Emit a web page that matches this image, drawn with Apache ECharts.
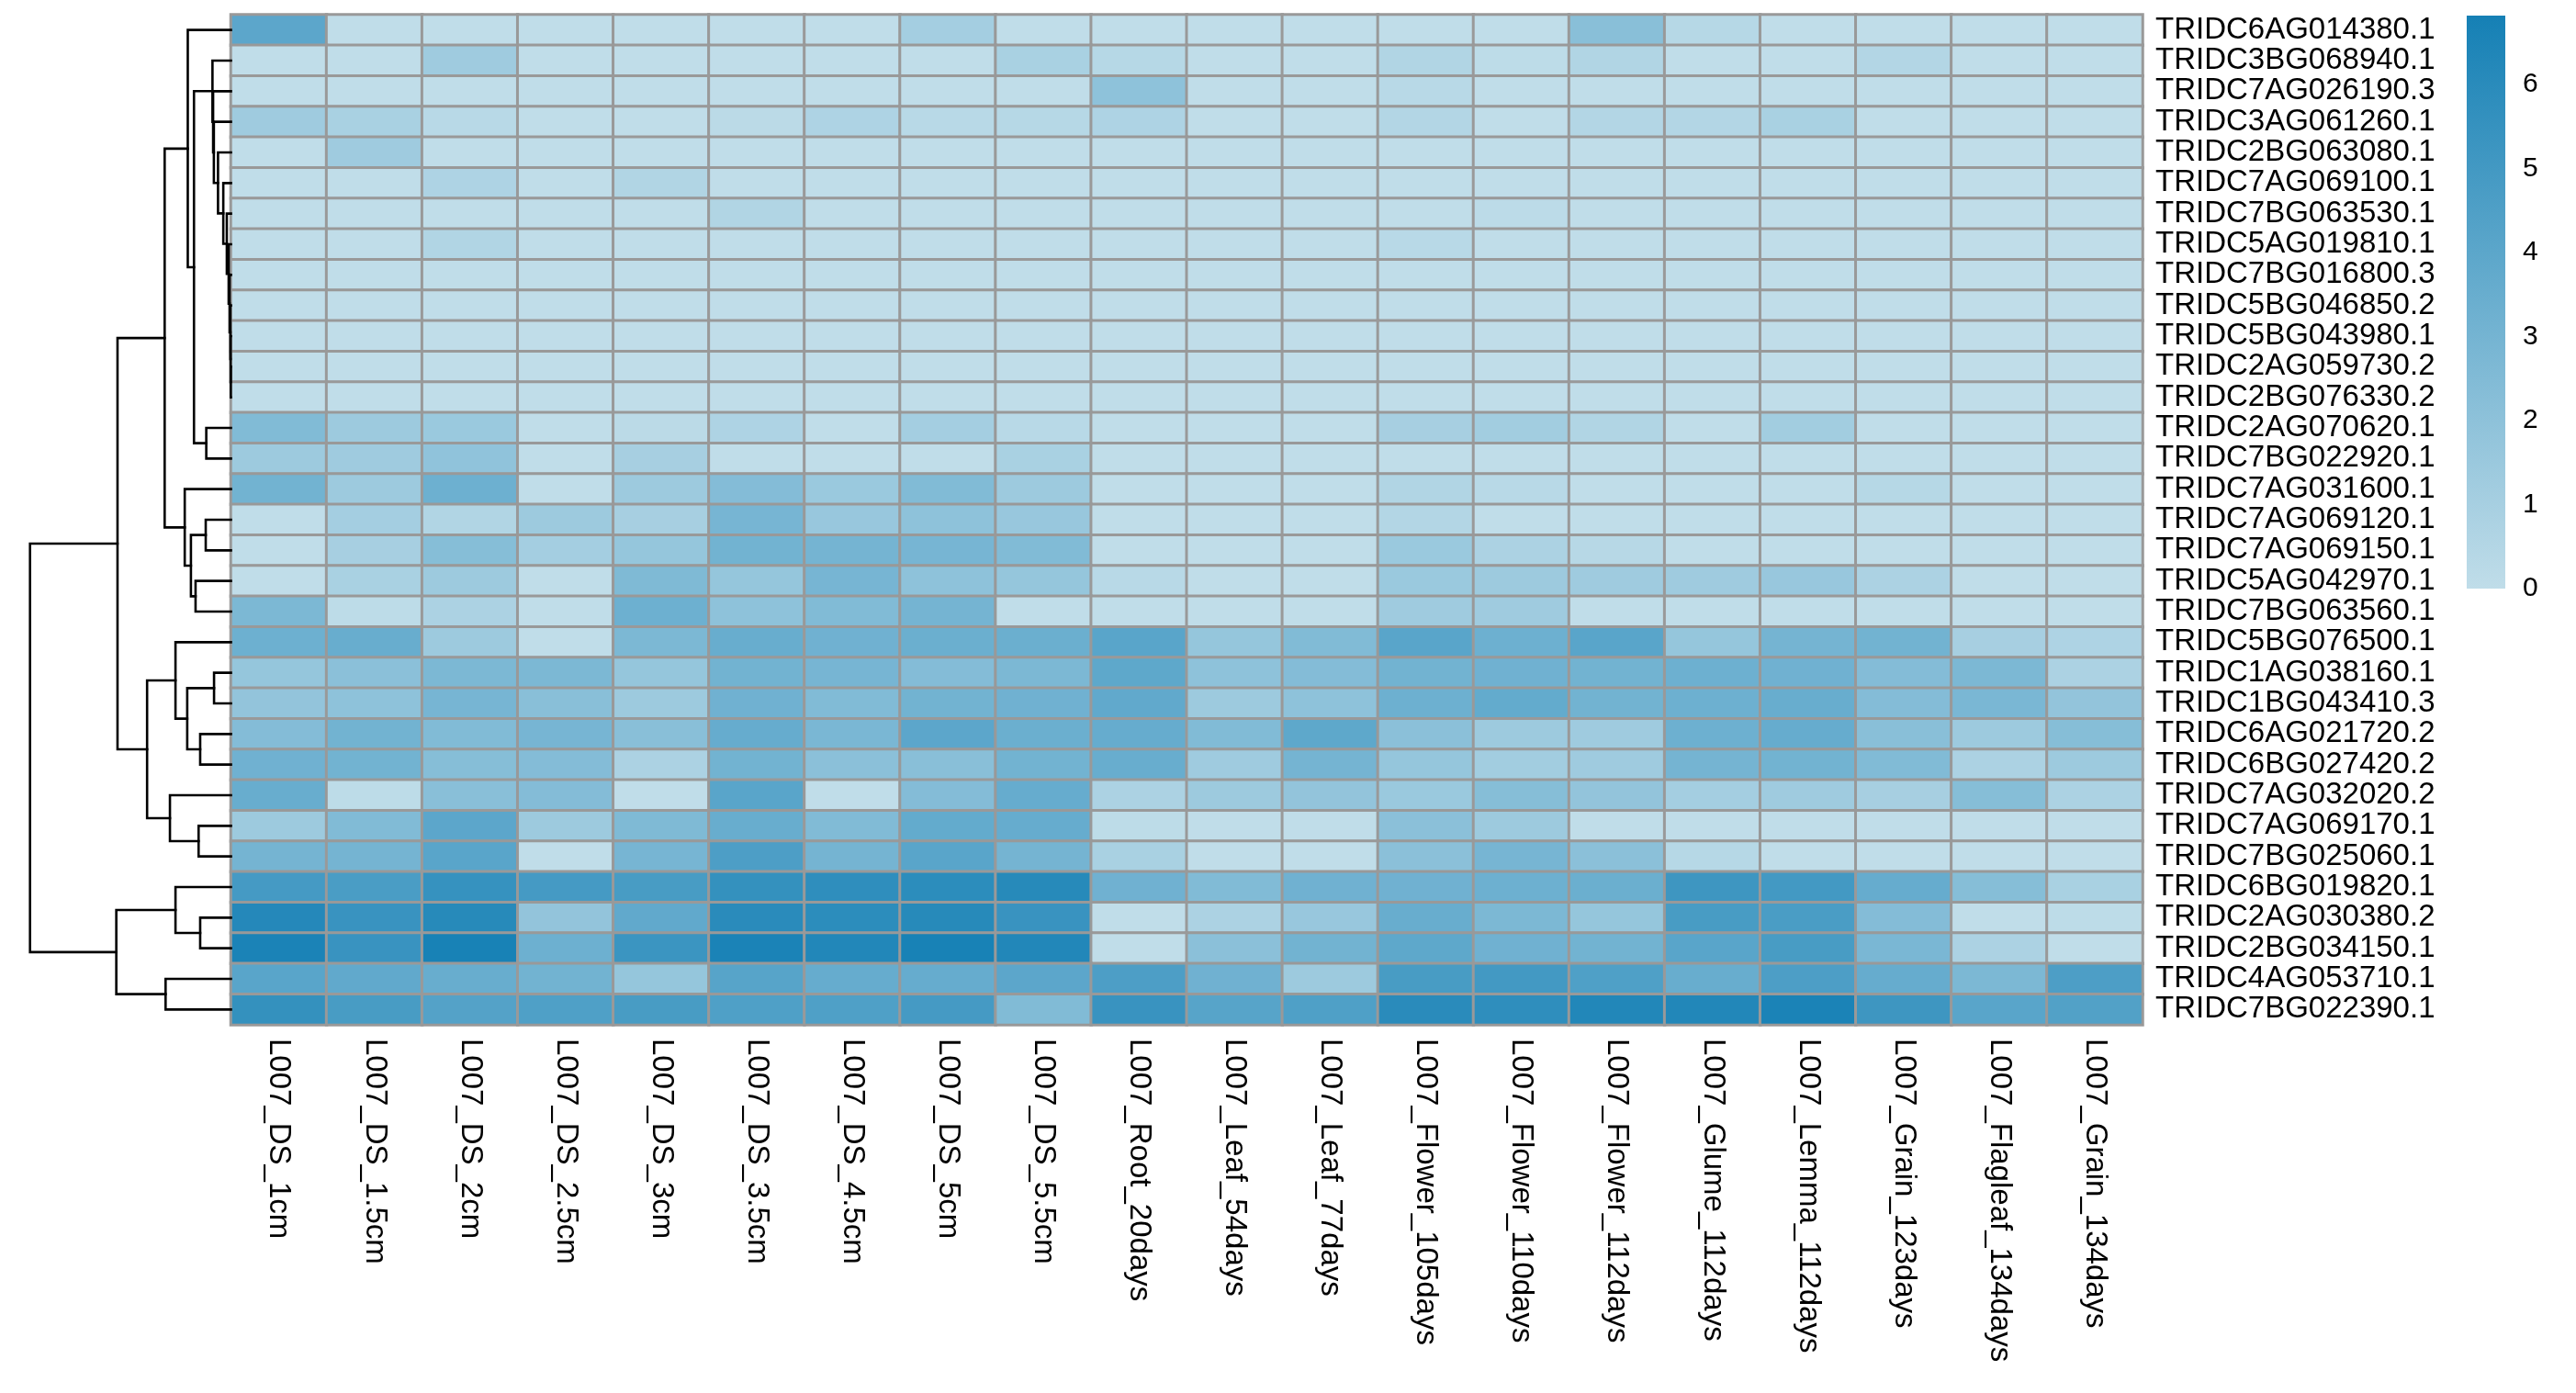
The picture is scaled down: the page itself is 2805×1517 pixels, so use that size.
<!DOCTYPE html>
<html>
<head>
<meta charset="utf-8">
<script src="https://cdn.jsdelivr.net/npm/echarts@6/dist/echarts.min.js"></script>
<style>
html,body{margin:0;padding:0;background:#fff;}
#chart{width:2805px;height:1517px;}
</style>
</head>
<body>
<div id="chart"></div>
<script>
// ---- column (sample) labels ----
const samples = ["L007_DS_1cm","L007_DS_1.5cm","L007_DS_2cm","L007_DS_2.5cm","L007_DS_3cm",
  "L007_DS_3.5cm","L007_DS_4.5cm","L007_DS_5cm","L007_DS_5.5cm","L007_Root_20days",
  "L007_Leaf_54days","L007_Leaf_77days","L007_Flower_105days","L007_Flower_110days","L007_Flower_112days",
  "L007_Glume_112days","L007_Lemma_112days","L007_Grain_123days","L007_Flagleaf_134days","L007_Grain_134days"];

// ---- row (gene) labels, in dendrogram order ----
const genes = ["TRIDC6AG014380.1","TRIDC3BG068940.1","TRIDC7AG026190.3","TRIDC3AG061260.1","TRIDC2BG063080.1",
  "TRIDC7AG069100.1","TRIDC7BG063530.1","TRIDC5AG019810.1","TRIDC7BG016800.3","TRIDC5BG046850.2",
  "TRIDC5BG043980.1","TRIDC2AG059730.2","TRIDC2BG076330.2","TRIDC2AG070620.1","TRIDC7BG022920.1",
  "TRIDC7AG031600.1","TRIDC7AG069120.1","TRIDC7AG069150.1","TRIDC5AG042970.1","TRIDC7BG063560.1",
  "TRIDC5BG076500.1","TRIDC1AG038160.1","TRIDC1BG043410.3","TRIDC6AG021720.2","TRIDC6BG027420.2",
  "TRIDC7AG032020.2","TRIDC7AG069170.1","TRIDC7BG025060.1","TRIDC6BG019820.1","TRIDC2AG030380.2",
  "TRIDC2BG034150.1","TRIDC4AG053710.1","TRIDC7BG022390.1"];

// ---- expression values per gene (one value per sample) ----
const TRIDC6AG014380_1 = [4.0,0,0,0,0,0,0,1.1,0,0, 0,0,0,0,2.2,0.4,0,0,0,0];
const TRIDC3BG068940_1 = [0,0,1.3,0,0,0,0,0,0.9,0.4, 0,0,0.6,0.1,0.6,0,0,0.5,0,0];
const TRIDC7AG026190_3 = [0,0,0,0,0,0,0,0,0,2.0, 0,0,0.3,0,0,0,0,0,0,0];
const TRIDC3AG061260_1 = [1.3,0.9,0.3,0,0,0.2,0.7,0.3,0.4,0.7, 0,0,0.5,0,0.5,0.5,0.9,0,0,0];
const TRIDC2BG063080_1 = [0,1.3,0,0,0,0,0,0,0,0, 0,0,0,0,0,0,0,0,0,0];
const TRIDC7AG069100_1 = [0,0,0.7,0,0.6,0,0,0,0,0, 0,0,0,0,0,0,0,0,0,0];
const TRIDC7BG063530_1 = [0,0,0,0,0,0.6,0,0,0,0, 0,0,0,0.15,0,0,0,0,0,0];
const TRIDC5AG019810_1 = [0,0,0.6,0,0,0,0,0,0,0, 0,0,0.3,0,0,0,0,0,0,0];
const TRIDC7BG016800_3 = [0,0,0,0,0,0,0,0,0,0, 0,0,0,0,0,0,0,0,0,0];
const TRIDC5BG046850_2 = [0,0,0,0,0,0,0,0,0,0, 0,0,0,0,0,0,0,0,0,0];
const TRIDC5BG043980_1 = [0,0,0,0,0,0,0,0,0,0, 0,0,0,0,0,0,0,0,0,0];
const TRIDC2AG059730_2 = [0,0,0,0,0,0,0,0,0,0, 0,0,0,0,0,0,0,0,0,0];
const TRIDC2BG076330_2 = [0,0,0,0,0,0,0,0,0,0, 0,0,0,0,0,0,0,0,0,0];
const TRIDC2AG070620_1 = [2.5,1.4,1.5,0,0.2,0.7,0,1.1,0.3,0, 0,0,1.0,1.2,0.6,0,1.2,0,0,0];
const TRIDC7BG022920_1 = [1.4,1.3,1.9,0,1.0,0,0,0,0.9,0, 0,0,0,0,0,0,0,0,0,0];
const TRIDC7AG031600_1 = [3.1,1.4,3.3,0,1.4,2.4,1.5,2.5,1.4,0, 0,0,0.6,0.3,0,0,0,0.4,0,0];
const TRIDC7AG069120_1 = [0,1.1,0.6,1.4,1.0,2.9,1.6,2.0,1.6,0, 0,0,0.5,0,0,0,0,0,0,0];
const TRIDC7AG069150_1 = [0,1.0,2.3,1.1,1.7,3.1,3.0,2.9,2.5,0, 0,0,1.5,0.8,0.35,0,0,0,0,0];
const TRIDC5AG042970_1 = [0,0.9,1.4,0,2.6,1.7,2.9,2.0,1.7,0.3, 0,0,1.5,1.4,1.3,1.3,1.6,0.8,0,0];
const TRIDC7BG063560_1 = [2.7,0.1,0.8,0,3.3,2.0,2.5,3.0,0,0, 0,0,1.3,1.3,0,0,0,0,0,0];
const TRIDC5BG076500_1 = [3.3,3.5,1.4,0,2.7,3.5,3.2,3.4,3.4,4.1, 1.7,2.5,4.1,3.3,4.1,1.7,3.0,3.1,1.0,0.7];
const TRIDC1AG038160_1 = [1.7,2.1,2.7,2.7,1.7,3.1,2.9,2.4,2.7,3.9, 2.0,2.4,3.1,3.2,3.1,3.3,3.2,2.4,2.7,0.8];
const TRIDC1BG043410_3 = [1.8,2.0,2.9,2.2,1.4,3.2,2.5,3.1,3.2,3.8, 1.4,2.0,3.3,3.7,3.1,3.3,3.5,2.4,2.8,1.8];
const TRIDC6AG021720_2 = [2.4,3.1,2.5,2.9,2.2,3.6,2.8,4.0,3.4,3.6, 2.5,3.9,2.1,1.4,1.3,3.3,3.6,2.2,1.4,2.3];
const TRIDC6BG027420_2 = [3.2,3.1,2.3,2.4,0.8,3.1,2.1,2.2,3.1,3.5, 1.3,3.0,1.7,1.2,1.3,3.0,3.1,2.5,0.8,1.4];
const TRIDC7AG032020_2 = [3.5,0.1,2.2,2.4,0,4.1,0,2.4,3.6,0.8, 1.4,1.8,1.5,2.3,1.8,1.1,1.3,1.0,2.3,0.8];
const TRIDC7AG069170_1 = [1.4,2.5,4.0,1.4,2.6,3.5,2.5,3.7,3.6,0.1, 0,0,2.1,1.4,0,0,0,0,0,0];
const TRIDC7BG025060_1 = [3.0,3.0,4.1,0,2.9,4.6,3.0,4.1,3.0,0.9, 0,0,2.1,2.9,2.1,0.4,0,0,0,0];
const TRIDC6BG019820_1 = [4.9,4.7,5.5,4.9,4.8,5.6,5.8,5.9,6.1,3.2, 2.5,3.2,3.2,3.3,3.4,5.2,5.0,3.6,2.3,0.9];
const TRIDC2AG030380_2 = [6.2,5.4,6.1,1.8,3.8,6.0,5.9,6.1,5.4,0, 0.8,1.6,3.5,2.7,1.7,4.8,4.7,2.4,0,0.1];
const TRIDC2BG034150_1 = [6.6,5.4,6.7,3.3,5.3,6.6,6.3,6.7,6.3,0, 2.1,3.1,3.9,3.2,3.1,4.1,4.8,2.8,0.8,0];
const TRIDC4AG053710_1 = [4.1,3.8,3.5,3.1,1.7,4.2,3.6,3.6,4.0,4.6, 3.2,1.4,4.8,5.0,4.5,3.5,4.6,3.6,2.7,4.6];
const TRIDC7BG022390_1 = [5.6,4.8,4.3,4.5,4.8,4.5,4.5,4.9,2.5,5.4, 4.2,4.5,6.0,5.8,6.3,6.3,6.6,5.2,4.1,4.4];

const geneRows = [TRIDC6AG014380_1,TRIDC3BG068940_1,TRIDC7AG026190_3,TRIDC3AG061260_1,TRIDC2BG063080_1,
  TRIDC7AG069100_1,TRIDC7BG063530_1,TRIDC5AG019810_1,TRIDC7BG016800_3,TRIDC5BG046850_2,
  TRIDC5BG043980_1,TRIDC2AG059730_2,TRIDC2BG076330_2,TRIDC2AG070620_1,TRIDC7BG022920_1,
  TRIDC7AG031600_1,TRIDC7AG069120_1,TRIDC7AG069150_1,TRIDC5AG042970_1,TRIDC7BG063560_1,
  TRIDC5BG076500_1,TRIDC1AG038160_1,TRIDC1BG043410_3,TRIDC6AG021720_2,TRIDC6BG027420_2,
  TRIDC7AG032020_2,TRIDC7AG069170_1,TRIDC7BG025060_1,TRIDC6BG019820_1,TRIDC2AG030380_2,
  TRIDC2BG034150_1,TRIDC4AG053710_1,TRIDC7BG022390_1];

// ---- row dendrogram, hclust style: negative = leaf (row index + 1), positive = earlier merge; [left, right, height] ----
const rowMerges = [
  [-12,-13,0.2],[-11,1,0.4],[-10,2,0.6],[-9,3,1.5],[-8,4,2.5],[-7,5,4.5],[-6,6,8.3],[-5,7,14.0],
  [-4,8,18.5],[-3,9,19.3],[-2,10,20.0],[-14,-15,26.7],[11,12,40.0],[-1,13,46.7],
  [-17,-18,27.3],[-19,-20,38.3],[15,16,43.3],[-16,17,50.0],[14,18,71.7],
  [-22,-23,18.3],[-24,-25,33.3],[20,21,47.3],[-21,22,60.0],[-27,-28,35.0],[-26,24,66.0],[23,25,90.7],
  [19,26,122.7],[-30,-31,33.3],[-29,28,60.0],[-32,-33,70.7],[29,30,124.0],[27,31,217.3]
];

// ---- colour scale ----
const scaleRange = [0, 6.82];
const scaleTicks = [0,1,2,3,4,5,6];
const lowColor = '#C0DDE9';
const highColor = '#1580B5';

// ---- build data ----
const heatData = [];
geneRows.forEach((row, r) => row.forEach((v, c) => heatData.push([c, r, v])));

function dendroSegments(merges) {
  const nodes = [];
  const get = id => id < 0 ? { y: -id - 1 + 0.5, h: 0 } : nodes[id - 1];
  const segs = [];
  merges.forEach(([a, b, h]) => {
    const A = get(a), B = get(b);
    segs.push({ coords: [[A.h, A.y], [h, A.y], [h, B.y], [B.h, B.y]] });
    nodes.push({ y: (A.y + B.y) / 2, h: h });
  });
  return segs;
}
const dendro = dendroSegments(rowMerges);
const rootHeight = rowMerges[rowMerges.length - 1][2];

const FONT = "'Liberation Sans', Arial, Helvetica, sans-serif";
const chart = echarts.init(document.getElementById('chart'), null, { renderer: 'canvas' });

const HM = { left: 251.5, top: 16, width: 2081.5, height: 1100 };

chart.setOption({
  animation: false,
  backgroundColor: '#ffffff',
  textStyle: { fontFamily: FONT },
  grid: [
    { left: HM.left, top: HM.top, width: HM.width, height: HM.height },
    { left: HM.left - 218.8, top: HM.top, width: 218.8, height: HM.height },
    { left: 2686, top: 17, width: 42, height: 624 }
  ],
  xAxis: [
    { gridIndex: 0, type: 'category', data: samples, position: 'bottom',
      axisLine: { show: false }, axisTick: { show: false }, splitLine: { show: false },
      axisLabel: { rotate: -90, fontSize: 33, margin: 15, color: '#000', fontFamily: FONT, interval: 0 } },
    { gridIndex: 1, type: 'value', min: 0, max: rootHeight, inverse: true, show: false },
    { gridIndex: 2, type: 'category', data: ['scale'], show: false }
  ],
  yAxis: [
    { gridIndex: 0, type: 'category', data: genes, inverse: true, position: 'right',
      axisLine: { show: false }, axisTick: { show: false }, splitLine: { show: false },
      axisLabel: { fontSize: 33, margin: 14, color: '#000', fontFamily: FONT, interval: 0 } },
    { gridIndex: 1, type: 'value', min: 0, max: genes.length, inverse: true, show: false },
    { gridIndex: 2, type: 'value', min: scaleRange[0], max: scaleRange[1], interval: 1, position: 'right',
      axisLine: { show: false }, axisTick: { show: false }, splitLine: { show: false },
      axisLabel: { fontSize: 30, margin: 19, color: '#000', fontFamily: FONT,
        formatter: v => scaleTicks.includes(v) ? String(v) : '' } }
  ],
  visualMap: {
    type: 'continuous', show: false, seriesIndex: 0,
    min: scaleRange[0], max: scaleRange[1],
    inRange: { color: [lowColor, highColor] }
  },
  series: [
    { type: 'heatmap', xAxisIndex: 0, yAxisIndex: 0, data: heatData, silent: true,
      itemStyle: { borderColor: '#999999', borderWidth: 3 },
      emphasis: { disabled: true } },
    { type: 'lines', coordinateSystem: 'cartesian2d', xAxisIndex: 1, yAxisIndex: 1,
      polyline: true, silent: true, data: dendro,
      lineStyle: { color: '#000', width: 2.6, opacity: 1, join: 'miter', cap: 'square' } },
    { type: 'bar', xAxisIndex: 2, yAxisIndex: 2, barWidth: '100%', silent: true,
      data: [scaleRange[1]],
      itemStyle: { color: { type: 'linear', x: 0, y: 0, x2: 0, y2: 1,
        colorStops: [{ offset: 0, color: highColor }, { offset: 1, color: lowColor }] } } }
  ]
});
</script>
</body>
</html>
